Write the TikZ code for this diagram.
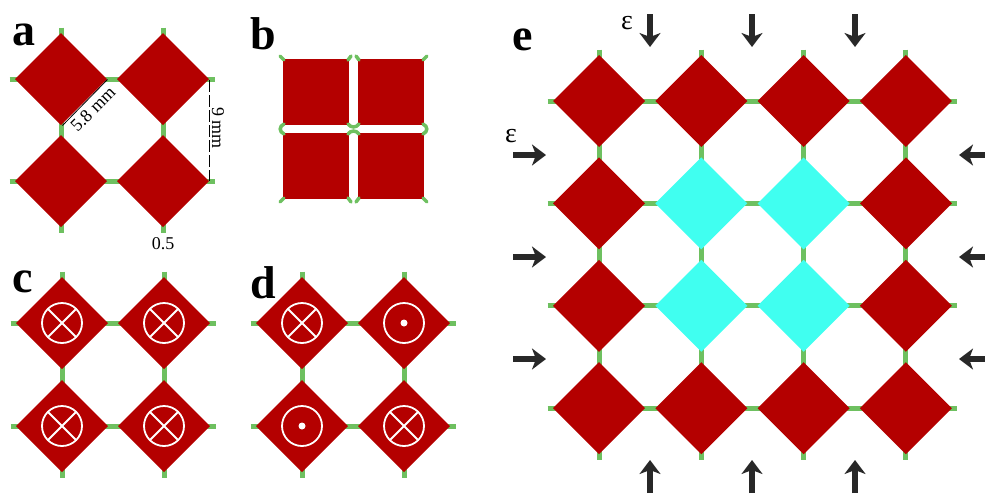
\documentclass[tikz,border=0pt]{standalone}
\usepackage{fontspec}
\setmainfont{Liberation Serif}
\usetikzlibrary{arrows.meta}
\definecolor{cellred}{RGB}{180,0,0}
\definecolor{hinge}{RGB}{110,192,96}
\definecolor{softcell}{RGB}{64,255,240}
\definecolor{push}{RGB}{40,40,40}

\tikzset{
  panel/.style={font=\fontsize{46}{46}\selectfont\bfseries, inner sep=0pt, anchor=base west},
  dimtext/.style={font=\fontsize{18}{18}\selectfont, inner sep=0pt},
  epstext/.style={font=\fontsize{28}{28}\selectfont, inner sep=0pt},
  load/.style={push, line width=6pt, -{Stealth[length=14pt,width=21pt,inset=4pt]}},
  spin/.style={white, line width=1.8pt},
  bhinge/.style={hinge, line width=3.5pt, line cap=round}
}

% one rotating unit: hinge cross below, diamond on top
\newcommand{\rotcell}[3]{%
  \draw[hinge, line width=5pt] (#1-51.5,#2) -- (#1+51.5,#2) (#1,#2-51.5) -- (#1,#2+51.5);
  \fill[#3] (#1-46,#2) -- (#1,#2-46) -- (#1+46,#2) -- (#1,#2+46) -- cycle;
}
\newcommand{\spinin}[2]{%
  \draw[spin] (#1,#2) circle (20) (#1-14.1,#2-14.1) -- (#1+14.1,#2+14.1) (#1-14.1,#2+14.1) -- (#1+14.1,#2-14.1);
}
\newcommand{\spinout}[2]{%
  \draw[spin] (#1,#2) circle (20); \fill[white] (#1,#2) circle (3.5);
}

\begin{document}
\begin{tikzpicture}[x=1pt,y=-1pt]
  \useasboundingbox (0,0) rectangle (985,493);

  % a: rest state
  \foreach \cx/\cy in {61/79,163/79,61/181,163/181} { \rotcell{\cx}{\cy}{cellred} }
  \node[panel] (la) at (12,45) {a};
  \draw[line width=0.8pt] (62.5,125.5) -- (107.5,79.5);
  \node[dimtext, rotate=45] (side) at (93,109) {5.8 mm};
  \draw[line width=0.8pt, dash pattern=on 12pt off 3pt] (209,80) -- (209,181);
  \node[dimtext, rotate=-90] (pitch) at (218,128) {9 mm};
  \node[dimtext] (gap) at (163,244) {0.5};

  % b: closed state
  \node[panel] (lb) at (250,49) {b};
  \fill[cellred] (283,59) rectangle (349,125);
  \fill[cellred] (358,59) rectangle (424,125);
  \fill[cellred] (283,133) rectangle (349,199);
  \fill[cellred] (358,133) rectangle (424,199);
  \draw[bhinge] (284,60) -- (280,56) (423,60) -- (427,56);
  \draw[bhinge] (284,198) -- (280,202) (423,198) -- (427,202);
  \draw[bhinge] (348,60) -- (351,56) (359,60) -- (356,56);
  \draw[bhinge] (348,198) -- (351,202) (359,198) -- (356,202);
  \draw[bhinge] (284,124) .. controls (279,126) and (279,132) .. (284,134);
  \draw[bhinge] (423,124) .. controls (428,126) and (428,132) .. (423,134);
  \draw[bhinge] (348,124) .. controls (351,128) and (356,128) .. (359,124);
  \draw[bhinge] (348,134) .. controls (351,130) and (356,130) .. (359,134);

  % c: all units turn the same way
  \node[panel] (lc) at (12,292) {c};
  \foreach \cx/\cy in {62/323,164/323,62/426,164/426} { \rotcell{\cx}{\cy}{cellred} \spinin{\cx}{\cy} }

  % d: alternating turns
  \node[panel] (ld) at (250,298) {d};
  \foreach \cx/\cy in {302/323,404/323,302/426,404/426} { \rotcell{\cx}{\cy}{cellred} }
  \spinin{302}{323} \spinout{404}{323} \spinout{302}{426} \spinin{404}{426}

  % e: 4x4 sheet under compression, soft 2x2 core
  \node[panel] (le) at (512,50) {e};
  \foreach \i in {0,...,3} {
    \foreach \j in {0,...,3} {
      \def\cc{cellred}
      \ifnum\i>0 \ifnum\i<3 \ifnum\j>0 \ifnum\j<3 \def\cc{softcell}\fi\fi\fi\fi
      \rotcell{599+102.3*\i}{101+102.4*\j}{\cc}
    }
  }
  \foreach \ax in {650,752,855} {
    \draw[load] (\ax,14) -- (\ax,47);
    \draw[load] (\ax,493) -- (\ax,460);
  }
  \foreach \ay in {155,257,359} {
    \draw[load] (513,\ay) -- (546,\ay);
    \draw[load] (985,\ay) -- (959,\ay);
  }
  \node[epstext] (epstop) at (627,23) {ε};
  \node[epstext] (epsleft) at (511,136) {ε};
\end{tikzpicture}
\end{document}
